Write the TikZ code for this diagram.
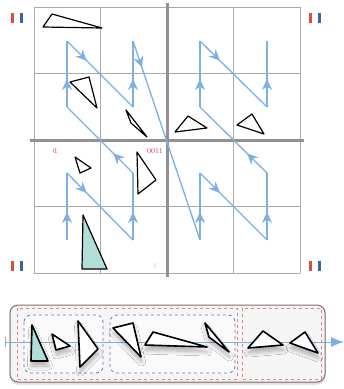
\documentclass[tikz,border=0pt]{standalone}
\usetikzlibrary{arrows.meta,decorations.markings,shadows,shadows.blur}
\definecolor{pathblue}{RGB}{125,176,224}
\definecolor{gridgray}{RGB}{170,170,170}
\definecolor{thickgray}{RGB}{145,145,145}
\definecolor{markred}{RGB}{214,80,70}
\definecolor{markblue}{RGB}{60,100,160}
\definecolor{teal1}{RGB}{178,222,218}
\definecolor{dashred}{RGB}{225,130,130}
\definecolor{dashblue}{RGB}{110,120,175}
\definecolor{labelred}{RGB}{200,60,90}
\definecolor{panelframe}{RGB}{130,110,110}
\tikzset{
  gridline/.style={draw=gridgray,line width=0.9pt},
  thickline/.style={draw=thickgray,line width=3pt},
  zseg/.style={draw=pathblue,line width=1.3pt,postaction={decorate},
    decoration={markings,mark=at position 28pt with {\arrow{Stealth[length=11pt,width=10pt,inset=3.5pt]}}}},
  tri/.style={draw=black,line width=1.2pt,fill=white,line join=round},
  ptri/.style={draw=black,line width=1.6pt,fill=white,line join=round,
    blur shadow={shadow xshift=0.5pt,shadow yshift=-5pt,shadow blur steps=10,shadow blur radius=4pt,shadow opacity=30}},
  lbl/.style={text=labelred,font=\fontsize{7.5}{7.5}\selectfont,inner sep=0pt},
}
\begin{document}
\begin{tikzpicture}[x=1pt,y=-1pt]
\useasboundingbox (0,0) rectangle (344,389);
% grid
\foreach \v in {34,100.5,233.5,300}{\draw[gridline] (\v,7) -- (\v,273);}
\foreach \h in {7,73.5,206.5,273}{\draw[gridline] (34,\h) -- (300,\h);}
\draw[thickline] (30,140) -- (304,140);
\draw[thickline] (167,3) -- (167,277);
% corner marks
\foreach \cx/\cy in {12/13,310/13,12/261,310/261}{
  \fill[markred] (\cx-1.5,\cy) rectangle (\cx+1.5,\cy+10);
  \fill[markblue] (\cx+7.5,\cy) rectangle (\cx+10.5,\cy+10);
}
% labels
\begin{scope}
\clip (53,140) rectangle (165.5,160);
\node[lbl] (l01) at (54,151) {01};
\node[lbl] (l0011) at (155,151) {0011};
\end{scope}
\node[lbl,text=labelred!40] (l1) at (155,266) {1};
% z-order points
\coordinate (a1) at (67,240); \coordinate (a2) at (67,173);
\coordinate (a3) at (133,240); \coordinate (a4) at (133,173);
\coordinate (b1) at (67,107); \coordinate (b2) at (67,41);
\coordinate (b3) at (133,107); \coordinate (b4) at (133,41);
\coordinate (c1) at (200,240); \coordinate (c2) at (200,173);
\coordinate (c3) at (267,240); \coordinate (c4) at (267,173);
\coordinate (d1) at (200,107); \coordinate (d2) at (200,41);
\coordinate (d3) at (267,107); \coordinate (d4) at (267,41);
\foreach \s/\e in {a1/a2,a2/a3,a3/a4,a4/b1,b1/b2,b2/b3,b3/b4,b4/c1,c1/c2,c2/c3,c3/c4,c4/d1,d1/d2,d2/d3,d3/d4}{
  \draw[zseg] (\s) -- (\e);
}
% grid triangles
\draw[tri] (43,27) -- (52,14) -- (102,28) -- cycle;
\draw[tri] (70,82) -- (89,77) -- (97,108) -- cycle;
\draw[tri] (126,110) -- (131,123) -- (147,137) -- cycle;
\draw[tri] (175,132) -- (188,116) -- (207,128) -- cycle;
\draw[tri] (237,125) -- (252,114) -- (264,134) -- cycle;
\draw[tri] (75,157) -- (91,168) -- (80,173) -- cycle;
\draw[tri] (137,152) -- (156,180) -- (138,194) -- cycle;
\draw[tri,fill=teal1] (83,215) -- (107,269) -- (82,269) -- cycle;
% bottom panel
\draw[draw=panelframe,line width=1pt,rounded corners=8pt,fill=black!4,
  blur shadow={shadow xshift=0pt,shadow yshift=-2pt,shadow blur steps=5,shadow opacity=20}]
  (10,305) rectangle (325,382);
\draw[dashred,dashed,line width=0.8pt] (17,308) rectangle (237,379);
\draw[dashred,dashed,line width=0.8pt] (242,308) rectangle (321,379);
\draw[dashblue,dashed,line width=0.8pt,rounded corners=7pt,fill=white,fill opacity=0.5] (24,315) rectangle (103,373);
\draw[dashblue,dashed,line width=0.8pt,rounded corners=7pt,fill=white,fill opacity=0.5] (110,315) rectangle (235,373);
\coordinate (ax0) at (5,342);
\coordinate (ax1) at (344,342);
\draw[pathblue,line width=1pt,-{Latex[length=13pt,width=10pt]}] (ax0) -- (ax1);
\draw[pathblue,line width=1pt] (5,337) -- (5,347);
% panel triangles
\draw[ptri,fill=teal1] (32,325) -- (48,361) -- (31,361) -- cycle;
\draw[ptri] (52,334) -- (70,346) -- (56,350) -- cycle;
\draw[ptri] (78,321) -- (98,349) -- (80,367) -- cycle;
\draw[ptri] (113,328) -- (133,323) -- (141,357) -- cycle;
\draw[ptri] (145,345) -- (153,332) -- (207,347) -- cycle;
\draw[ptri] (205,323) -- (229,352) -- (209,337) -- cycle;
\draw[ptri] (248,348) -- (263,331) -- (283,345) -- cycle;
\draw[ptri] (290,343) -- (305,332) -- (318,353) -- cycle;
\end{tikzpicture}
\end{document}
